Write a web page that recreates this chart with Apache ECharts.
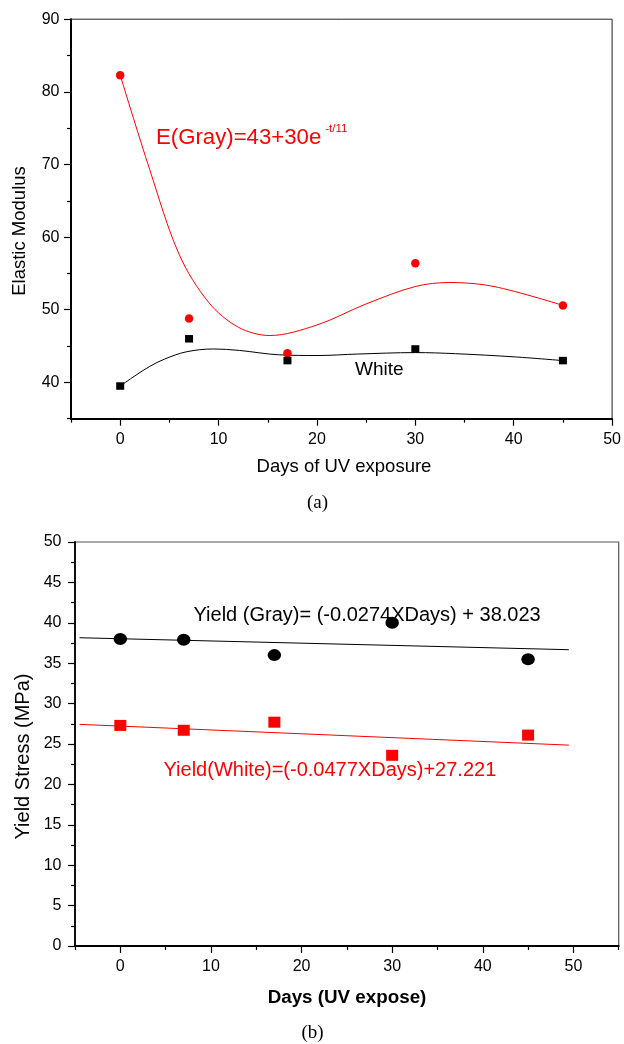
<!DOCTYPE html>
<html>
<head>
<meta charset="utf-8">
<script src="https://cdn.jsdelivr.net/npm/echarts@6/dist/echarts.min.js"></script>
<style>
  html, body { margin: 0; padding: 0; background: #fff; }
  #chart { width: 624px; height: 1044px; }
</style>
</head>
<body>
<div id="chart"></div>
<script>
// ---- Panel (a): elastic modulus against days of UV exposure ----
const days = [0, 7, 17, 30, 45];
const modulusGray = [82.3, 48.8, 44.0, 56.4, 50.6];
const modulusWhite = [39.5, 46.0, 43.0, 44.6, 43.0];

// smoothed trend curves, sampled along their length
const grayCurveX = [0, 3, 6, 9, 12, 15.2, 20, 25, 30, 33.5, 38, 45];
const grayCurveY = [82.3, 69.3, 57.6, 51.0, 47.6, 46.45, 47.9, 50.8, 53.2, 53.75, 53.2, 50.6];
const whiteCurveX = [0, 1.5, 3.0, 4.5, 6.7, 9.5, 12.1, 16.1, 20.1, 24.1, 30.0, 34.1, 40.2, 45.0];
const whiteCurveY = [39.5, 40.9, 42.2, 43.2, 44.2, 44.6, 44.4, 43.8, 43.7, 43.9, 44.1, 43.95, 43.5, 43.0];

// ---- Panel (b): yield stress against days of UV exposure ----
const yieldGray = [38.0, 37.9, 36.0, 40.0, 35.5];
const yieldWhite = [27.3, 26.7, 27.7, 23.6, 26.1];
// end points of the linear fits
const fitX = [-4.5, 49.5];
const grayFitY = [38.15, 36.67];
const whiteFitY = [27.43, 24.86];

// ---- tick positions ----
const xTicksA = [0, 10, 20, 30, 40, 50];
const xMinorA = [-5, 5, 15, 25, 35, 45];
const yTicksA = [40, 50, 60, 70, 80, 90];
const yMinorA = [35, 45, 55, 65, 75, 85];
const xTicksB = [0, 10, 20, 30, 40, 50];
const xMinorB = [-5, 5, 15, 25, 35, 45, 55];
const yTicksB = [0, 5, 10, 15, 20, 25, 30, 35, 40, 45, 50];
const yMinorB = [2.5, 7.5, 12.5, 17.5, 22.5, 27.5, 32.5, 37.5, 42.5, 47.5];

const FONT = "'Liberation Sans', Arial, sans-serif";
const SERIF = "'Liberation Serif', 'Times New Roman', serif";

const pairs = (xs, ys) => xs.map((x, i) => [x, ys[i]]);

function majorAxis(dim, gridIndex, min, max, ticks, margin, lineWidth) {
  return {
    type: 'value', gridIndex, min, max,
    position: dim === 'x' ? 'bottom' : 'left',
    axisLine: { show: true, onZero: false, lineStyle: { color: '#000', width: lineWidth } },
    axisTick: { show: true, inside: false, length: 7, customValues: ticks, lineStyle: { color: '#000', width: 1.2 } },
    axisLabel: { show: true, customValues: ticks, margin, color: '#000', fontSize: 16, fontFamily: FONT },
    splitLine: { show: false }
  };
}
function minorAxis(dim, gridIndex, min, max, ticks) {
  return {
    type: 'value', gridIndex, min, max,
    position: dim === 'x' ? 'bottom' : 'left',
    axisLine: { show: false, onZero: false },
    axisTick: { show: true, inside: false, length: 4, customValues: ticks, lineStyle: { color: '#000', width: 1.2 } },
    axisLabel: { show: false },
    splitLine: { show: false }
  };
}

function fontString(size, family, weight) {
  return (weight || 'normal') + ' ' + size + 'px ' + (family || FONT);
}
function label(text, x, y, opts) {
  const o = opts || {};
  return {
    type: 'text', x, y, rotation: o.rotation || 0, silent: true,
    style: {
      text,
      font: fontString(o.size || 18, o.family, o.weight),
      fill: o.color || '#000',
      align: o.align || 'center', verticalAlign: 'middle',
      textAlign: o.align || 'center', textVerticalAlign: 'middle'
    }
  };
}

// width of the fit equation base, so the exponent sits right after it
const measureCtx = document.createElement('canvas').getContext('2d');
const eqBase = 'E(Gray)=43+30e';
const eqSize = 22.2;
measureCtx.font = fontString(eqSize);
const eqBaseWidth = measureCtx.measureText(eqBase).width;
const eqLeft = 156;

const chart = echarts.init(document.getElementById('chart'), null, { renderer: 'canvas' });

chart.setOption({
  animation: false,
  backgroundColor: '#fff',
  grid: [
    { left: 71, top: 19.2, width: 543.7, height: 399.5, show: true, borderColor: '#222', borderWidth: 1, backgroundColor: 'transparent' },
    { left: 75, top: 542, width: 543.7, height: 404, show: true, borderColor: '#555', borderWidth: 1.2, backgroundColor: 'transparent' }
  ],
  xAxis: [
    majorAxis('x', 0, -5, 50, xTicksA, 13, 2),
    minorAxis('x', 0, -5, 50, xMinorA),
    majorAxis('x', 1, -5, 55, xTicksB, 13, 2),
    minorAxis('x', 1, -5, 55, xMinorB)
  ],
  yAxis: [
    majorAxis('y', 0, 35, 90, yTicksA, 11.5, 2),
    minorAxis('y', 0, 35, 90, yMinorA),
    majorAxis('y', 1, 0, 50, yTicksB, 13.5, 1.8),
    minorAxis('y', 1, 0, 50, yMinorB)
  ],
  series: [
    // panel (a)
    {
      type: 'line', xAxisIndex: 0, yAxisIndex: 0, data: pairs(grayCurveX, grayCurveY),
      smooth: 0.33, showSymbol: false, symbol: 'none',
      lineStyle: { color: '#ff0000', width: 1 }, z: 2
    },
    {
      type: 'line', xAxisIndex: 0, yAxisIndex: 0, data: pairs(whiteCurveX, whiteCurveY),
      smooth: 0.35, showSymbol: false, symbol: 'none',
      lineStyle: { color: '#000', width: 1 }, z: 2
    },
    {
      type: 'scatter', xAxisIndex: 0, yAxisIndex: 0, data: pairs(days, modulusGray),
      symbol: 'circle', symbolSize: 8.5, itemStyle: { color: '#ff0000', opacity: 1 }, z: 3
    },
    {
      type: 'scatter', xAxisIndex: 0, yAxisIndex: 0, data: pairs(days, modulusWhite),
      symbol: 'rect', symbolSize: [8, 7.5], itemStyle: { color: '#000', opacity: 1 }, z: 3
    },
    // panel (b)
    {
      type: 'line', xAxisIndex: 2, yAxisIndex: 2, data: pairs(fitX, grayFitY),
      showSymbol: false, symbol: 'none', lineStyle: { color: '#000', width: 1 }, z: 2
    },
    {
      type: 'line', xAxisIndex: 2, yAxisIndex: 2, data: pairs(fitX, whiteFitY),
      showSymbol: false, symbol: 'none', lineStyle: { color: '#ff0000', width: 1 }, z: 2
    },
    {
      type: 'scatter', xAxisIndex: 2, yAxisIndex: 2, data: pairs(days, yieldGray),
      symbol: 'circle', symbolSize: [13.5, 12], itemStyle: { color: '#000', opacity: 1 }, z: 3
    },
    {
      type: 'scatter', xAxisIndex: 2, yAxisIndex: 2, data: pairs(days, yieldWhite),
      symbol: 'rect', symbolSize: [12, 11], itemStyle: { color: '#ff0000', opacity: 1 }, z: 3
    }
  ],
  graphic: [
    // panel (a) titles and annotations
    label('Elastic Modulus', 20, 231, { size: 18.5, rotation: Math.PI / 2 }),
    label('Days of UV exposure', 344, 466.5, { size: 18.5 }),
    label('(a)', 317.5, 503, { size: 19, family: SERIF }),
    label(eqBase, eqLeft, 137.5, { size: eqSize, color: '#ff0000', align: 'left' }),
    label('-t/11', eqLeft + eqBaseWidth + 4, 129, { size: 11.5, color: '#ff0000', align: 'left' }),
    label('White', 355, 369.3, { size: 19, align: 'left' }),
    // panel (b) titles and annotations
    label('Yield Stress (MPa)', 23.5, 756.5, { size: 20, rotation: Math.PI / 2 }),
    label('Days (UV expose)', 347, 998, { size: 18.8, weight: 'bold' }),
    label('(b)', 312.5, 1033, { size: 19, family: SERIF }),
    label('Yield (Gray)= (-0.0274XDays) + 38.023', 193.5, 615, { size: 20, align: 'left' }),
    label('Yield(White)=(-0.0477XDays)+27.221', 163.5, 770.8, { size: 20, color: '#ff0000', align: 'left' })
  ]
});
</script>
</body>
</html>
